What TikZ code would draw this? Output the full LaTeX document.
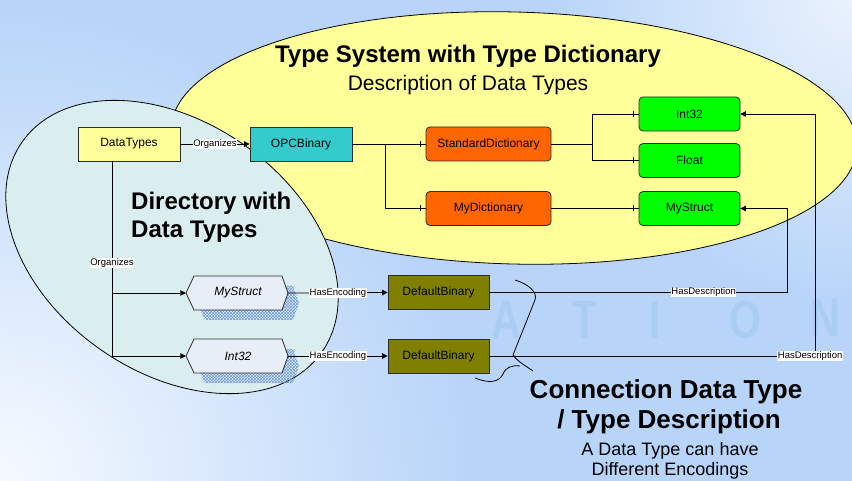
\documentclass[tikz,border=0pt]{standalone}
\usepackage{fontspec}
\setmainfont{Liberation Sans}
\usetikzlibrary{arrows.meta,patterns,decorations.markings}
\definecolor{bgblue}{RGB}{184,213,249}
\definecolor{bglight}{RGB}{246,250,255}
\definecolor{bgtr}{RGB}{234,242,253}
\definecolor{ellyellow}{RGB}{255,255,153}
\definecolor{ellcyan}{RGB}{218,238,240}
\definecolor{dtyellow}{RGB}{255,255,153}
\definecolor{opccyan}{RGB}{51,204,204}
\definecolor{dictorange}{RGB}{255,102,0}
\definecolor{typegreen}{RGB}{0,255,0}
\definecolor{encolive}{RGB}{128,128,0}
\definecolor{hexfill}{RGB}{232,238,248}
\definecolor{hatch}{RGB}{110,150,212}
\definecolor{wmark}{RGB}{172,205,243}
\definecolor{boxline}{RGB}{45,45,45}
\newcommand{\myhex}[2]{%
  \fill[pattern=crosshatch, pattern color=hatch] ({#1-41},{#2+10}) -- ({#1-33},{#2-7}) -- ({#1+55},{#2-7}) -- ({#1+61},{#2+10}) -- ({#1+55},{#2+27}) -- ({#1-33},{#2+27}) -- cycle;
  \filldraw[fill=hexfill, draw=boxline, line width=0.8pt] ({#1-52},#2) -- ({#1-44},{#2-17}) -- ({#1+44},{#2-17}) -- ({#1+50},#2) -- ({#1+44},{#2+17}) -- ({#1-44},{#2+17}) -- cycle;}
\begin{document}
\begin{tikzpicture}[x=1pt, y=-1pt,
  box/.style={draw=boxline, line width=0.8pt, minimum height=34pt, inner sep=0pt, font=\fontsize{12}{14}\selectfont},
  rbox/.style={box, rounded corners=4pt},
  lbl/.style={fill=white, inner sep=0.5pt, font=\fontsize{9.5}{10}\selectfont},
  conn/.style={draw=black, line width=0.75pt},
  arr/.style={conn, -{Triangle[length=5.5pt,width=5.5pt]}},
  tickline/.style={conn, postaction={decorate}, decoration={markings, mark=at position -5pt with {\draw[line width=0.75pt] (0pt,-3pt) -- (0pt,3pt);}}},
  hextext/.style={minimum width=88pt, minimum height=34pt, inner sep=0pt, font=\itshape\fontsize{12}{14}\selectfont},
  wm/.style={text=wmark, font=\bfseries\fontsize{54}{56}\selectfont, xscale=0.76, anchor=base, inner sep=0pt, text depth=0pt, text height=39pt},
  bigtitle/.style={font=\bfseries\fontsize{24}{27}\selectfont, anchor=base, inner sep=0pt},
  subtitle/.style={font=\fontsize{21}{24}\selectfont, anchor=base, inner sep=0pt},
  dirtitle/.style={font=\bfseries\fontsize{24}{28}\selectfont, anchor=base west, inner sep=0pt},
  cdtitle/.style={font=\bfseries\fontsize{26}{30}\selectfont, anchor=base, inner sep=0pt},
  cdsub/.style={font=\fontsize{18}{21}\selectfont, anchor=base, inner sep=0pt}]
% background
\useasboundingbox (0,0) rectangle (852,481);
\fill[bgblue] (0,0) rectangle (852,481);
\begin{scope}
  \clip (0,0) rectangle (852,481);
  \shade[inner color=bglight, outer color=bgblue] (0,481) circle [radius=470];
  \shade[inner color=bgtr, outer color=bgblue] (852,0) circle [radius=300];
\end{scope}
% watermark letters
\node[wm] (w3) at (506,338) {A};
\node[wm] (w4) at (585,338) {T};
\node[wm] (w5) at (655,338) {I};
\node[wm] (w6) at (745,338) {O};
\node[wm] (w7) at (825,336) {N};
% ellipses
\filldraw[fill=ellyellow, draw=black, line width=0.8pt, rotate around={-1.5:(514,138)}] (514,138) ellipse [x radius=343, y radius=126];
\filldraw[fill=ellcyan, draw=black, line width=0.8pt, rotate around={-35:(172,247)}] (172,247) ellipse [x radius=183, y radius=125];
% titles
\node[bigtitle] (t1) at (468,63) {Type System with Type Dictionary};
\node[subtitle] (t2) at (468,91) {Description of Data Types};
\node[dirtitle] (t3) at (131,210) {Directory with};
\node[dirtitle] (t4) at (131,238) {Data Types};
\node[cdtitle] (t5) at (666,398) {Connection Data Type};
\node[cdtitle] (t6) at (669,428) {/ Type Description};
\node[cdsub] (t7) at (670,455) {A Data Type can have};
\node[cdsub] (t8) at (670,475) {Different Encodings};
% nodes
\node[box, fill=dtyellow, minimum width=102pt] (dt) at (129,144) {DataTypes};
\node[box, fill=opccyan, minimum width=102pt] (opc) at (301,144) {OPCBinary};
\node[rbox, fill=dictorange, minimum width=125pt] (sd) at (488.5,144) {StandardDictionary};
\node[rbox, fill=dictorange, minimum width=125pt] (md) at (488.5,208.5) {MyDictionary};
\node[rbox, fill=typegreen, minimum width=101pt] (gi) at (689.5,114) {Int32};
\node[rbox, fill=typegreen, minimum width=101pt] (gf) at (689.5,160.5) {Float};
\node[rbox, fill=typegreen, minimum width=101pt] (gm) at (689.5,208.5) {MyStruct};
\node[box, fill=encolive, minimum width=101pt] (db1) at (438.5,292.5) {DefaultBinary};
\node[box, fill=encolive, minimum width=101pt] (db2) at (438.5,356) {DefaultBinary};
\myhex{238}{293}
\node[hextext] (ms) at (238,293) {MyStruct};
\myhex{238}{356}
\node[hextext] (hi) at (238,356) {Int32};
\coordinate (msL) at ([xshift=-8pt]ms.west);
\coordinate (msR) at ([xshift=6pt]ms.east);
\coordinate (hiL) at ([xshift=-8pt]hi.west);
\coordinate (hiR) at ([xshift=6pt]hi.east);
\coordinate (dtS) at ([xshift=-17pt]dt.south);
\coordinate (j1) at (385,144);
\coordinate (j2) at (592,144);
\coordinate (c1) at (787,292.5);
\coordinate (c2) at (815,356);
% connectors
\draw[arr] (dt) -- node[lbl] {Organizes} (opc);
\draw[arr] (dtS) |- (hiL);
\draw[arr] (dtS) |- node[lbl, pos=0.386] {Organizes} (msL);
\draw[tickline] (opc.east) -- (sd.west);
\draw[tickline] (j1) |- (md.west);
\draw[tickline] (sd.east) -- (j2) |- (gi.west);
\draw[tickline] (j2) |- (gf.west);
\draw[tickline] (md.east) -- (gm.west);
\draw[arr] (msR) -- node[lbl] {HasEncoding} (db1.west);
\draw[arr] (hiR) -- node[lbl] {HasEncoding} (db2.west);
\draw[arr] (db1.east) -- node[lbl, pos=0.72] {HasDescription} (c1) |- (gm.east);
\draw[arr] (db2.east) -- node[lbl, pos=0.985] {HasDescription} (c2) |- (gi.east);
% brace
\draw[line width=0.8pt] (515,280) .. controls (528,284) and (538,292) .. (535,300) -- (513,355) .. controls (518,362) and (526,366) .. (533,371);
\draw[line width=0.8pt] (475,378) .. controls (490,384) and (499,382) .. (503,374) .. controls (506,367) and (512,365) .. (520,366);
\end{tikzpicture}
\end{document}
